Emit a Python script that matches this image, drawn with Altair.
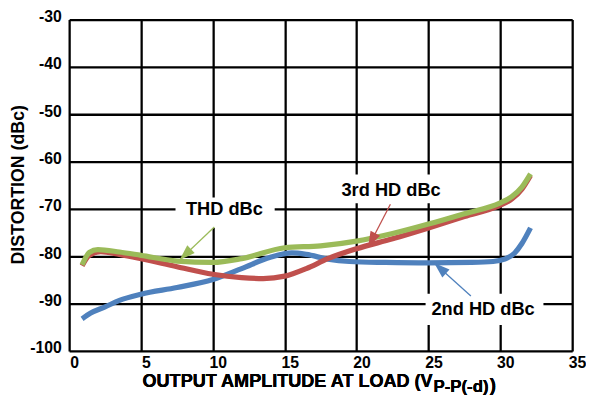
import math
import altair as alt
import pandas as pd

# ---- data ----
x_2nd = [0.9, 1.5, 2.5, 3.5, 5.0, 7.5, 10.0, 12.0, 14.0, 15.5, 16.5, 18.0, 19.5, 22.0, 25.0, 28.0, 29.5, 30.3, 31.0, 31.5, 32.1]
y_2nd = [-93.2, -92.0, -90.7, -89.3, -88.0, -86.6, -84.9, -82.6, -80.2, -79.3, -79.6, -80.6, -81.1, -81.3, -81.4, -81.3, -81.1, -80.6, -79.3, -77.3, -74.0]

x_3rd = [0.9, 1.4, 2.2, 3.5, 5.0, 7.5, 10.0, 12.0, 13.5, 15.0, 16.5, 18.0, 20.0, 22.5, 25.0, 27.5, 30.0, 30.8, 31.5, 32.1]
y_3rd = [-82.0, -79.8, -79.0, -79.6, -80.5, -82.2, -83.8, -84.5, -84.7, -84.2, -82.6, -80.5, -78.4, -76.3, -74.0, -71.6, -69.2, -67.9, -65.8, -62.9]

x_thd = [0.9, 1.4, 2.0, 3.5, 5.0, 7.5, 10.0, 12.0, 15.0, 17.5, 20.0, 22.5, 25.0, 27.5, 30.0, 30.8, 31.5, 32.1]
y_thd = [-81.8, -79.2, -78.6, -79.1, -79.8, -81.0, -81.3, -80.5, -78.2, -77.8, -76.8, -75.2, -73.2, -71.0, -68.7, -67.4, -65.4, -62.6]

series_names = ["2nd HD dBc", "3rd HD dBc", "THD dBc"]
series_colors = ["#4F81BD", "#C0504D", "#9BBB59"]

x_ticks = [0, 5, 10, 15, 20, 25, 30, 35]
y_ticks = [-100, -90, -80, -70, -60, -50, -40, -30]

# annotation labels: text, centre x, centre y
label_text = ["2nd HD dBc", "3rd HD dBc", "THD dBc"]
label_x = [28.8, 22.4, 10.8]
label_y = [-91.1, -66.1, -70.0]
# white boxes behind labels
box_x1 = [24.8, 18.8, 7.4]
box_x2 = [33.0, 26.0, 14.3]
box_y1 = [-87.9, -62.7, -67.6]
box_y2 = [-94.5, -68.8, -74.0]
# arrows: tail -> tip
arrow_x_tail = [27.95, 22.35, 10.1]
arrow_y_tail = [-88.4, -69.0, -73.8]
arrow_x_tip = [25.4, 20.8, 7.68]
arrow_y_tip = [-81.4, -78.1, -80.8]

W, H = 510, 336
X_DOM = [0, 35]
Y_DOM = [-100, -30]
FONT = "Liberation Sans"

# ---- tables ----
rows = []
for name, xs_, ys_ in [(series_names[0], x_2nd, y_2nd), (series_names[1], x_3rd, y_3rd), (series_names[2], x_thd, y_thd)]:
    for xv, yv in zip(xs_, ys_):
        rows.append({"series": name, "x": xv, "y": yv})
lines_df = pd.DataFrame(rows)

ann_rows = []
for i in range(3):
    dxp = (arrow_x_tip[i] - arrow_x_tail[i]) * W / (X_DOM[1] - X_DOM[0])
    dyp = -(arrow_y_tip[i] - arrow_y_tail[i]) * H / (Y_DOM[1] - Y_DOM[0])
    ang = math.degrees(math.atan2(dxp, -dyp)) % 360
    ann_rows.append({
        "series": series_names[i], "text": label_text[i],
        "lx": label_x[i], "ly": label_y[i],
        "bx1": box_x1[i], "bx2": box_x2[i], "by1": box_y1[i], "by2": box_y2[i],
        "ax1": arrow_x_tail[i], "ay1": arrow_y_tail[i],
        "ax2": arrow_x_tip[i], "ay2": arrow_y_tip[i], "ang": ang,
    })
ann_df = pd.DataFrame(ann_rows)

xs = alt.Scale(domain=X_DOM, nice=False, zero=False)
ys = alt.Scale(domain=Y_DOM, nice=False, zero=False)
cs = alt.Scale(domain=series_names, range=series_colors)

x_axis = alt.Axis(values=x_ticks, title=None, grid=True, gridColor="black", gridWidth=2.3,
                  gridOpacity=1, ticks=False, domain=False, labelFont=FONT, labelFontSize=16,
                  labelFontWeight="bold", labelColor="black", labelPadding=4, labelOffset=5,
                  labelFlush=False, labelExpr="'' + datum.value")
y_axis = alt.Axis(values=y_ticks, title="DISTORTION (dBc)", grid=True, gridColor="black",
                  gridWidth=2.3, gridOpacity=1, ticks=False, domain=False, labelFont=FONT,
                  labelFontSize=16, labelFontWeight="bold", labelColor="black", labelPadding=8,
                  labelBaseline="alphabetic", labelOffset=2, labelFlush=False,
                  labelExpr="'' + datum.value", titleFont=FONT, titleFontSize=18,
                  titleFontWeight="bold", titleColor="black", titleX=-51, titleY=167,
                  titleBaseline="middle", titleAlign="center")

lines = alt.Chart(lines_df).mark_line(strokeWidth=5.3, interpolate="monotone", strokeCap="butt").encode(
    x=alt.X("x:Q", scale=xs, axis=x_axis),
    y=alt.Y("y:Q", scale=ys, axis=y_axis),
    color=alt.Color("series:N", scale=cs, legend=None),
)

ann = alt.Chart(ann_df)
boxes = ann.mark_rect(fill="white").encode(
    x=alt.X("bx1:Q", scale=xs), x2="bx2:Q",
    y=alt.Y("by1:Q", scale=ys), y2="by2:Q",
)
texts = ann.mark_text(font=FONT, fontSize=18.5, fontWeight="bold", color="black",
                      align="center", baseline="middle").encode(
    x=alt.X("lx:Q", scale=xs), y=alt.Y("ly:Q", scale=ys), text="text:N",
)
shafts = ann.mark_rule(strokeWidth=1.3).encode(
    x=alt.X("ax1:Q", scale=xs), y=alt.Y("ay1:Q", scale=ys),
    x2="ax2:Q", y2="ay2:Q",
    color=alt.Color("series:N", scale=cs, legend=None),
)
heads = ann.mark_point(shape="M0,0L-0.34,1L0.34,1Z", filled=True, size=1024, opacity=1,
                       strokeWidth=0).encode(
    x=alt.X("ax2:Q", scale=xs), y=alt.Y("ay2:Q", scale=ys),
    angle=alt.Angle("ang:Q", scale=None),
    color=alt.Color("series:N", scale=cs, legend=None),
)

# x-axis title with subscript
t_main = alt.Chart(ann_df).mark_text(text="OUTPUT AMPLITUDE AT LOAD (V", font=FONT, fontSize=18.3,
                                     fontWeight="bold", color="black", align="right",
                                     baseline="alphabetic").encode(
    x=alt.value(368.5), y=alt.value(372.5))
t_sub = alt.Chart(ann_df).mark_text(text="P-P(-d)", font=FONT, fontSize=17, fontWeight="bold",
                                    color="black", align="left", baseline="alphabetic").encode(
    x=alt.value(369.5), y=alt.value(377.5))
t_close = alt.Chart(ann_df).mark_text(text=")", font=FONT, fontSize=19, fontWeight="bold",
                                      color="black", align="left", baseline="alphabetic").encode(
    x=alt.value(426.5), y=alt.value(377))

chart = alt.layer(lines, boxes, texts, shafts, heads, t_main, t_sub, t_close).properties(
    width=W, height=H,
    autosize=alt.AutoSizeParams(type="none"),
    padding={"left": 62, "top": 9, "right": 14, "bottom": 49},
).configure_view(stroke="black", strokeWidth=2.8).configure(background="white")

chart.save("out.html", embed_options={"renderer": "svg", "actions": False})
